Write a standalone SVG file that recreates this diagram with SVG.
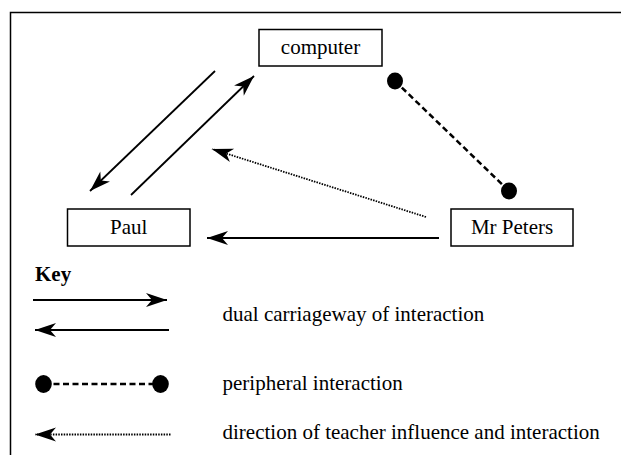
<svg xmlns="http://www.w3.org/2000/svg" width="621" height="455" viewBox="0 0 621 455">
<style>
text{font-family:"Liberation Serif","Times New Roman",serif;font-size:21px;fill:#000}
.box{fill:#fff;stroke:#000;stroke-width:1.5}
.solid{stroke:#000;stroke-width:1.8;fill:none}
.dash{stroke:#000;stroke-width:2.5;stroke-dasharray:6 3.5;fill:none}
.dot{stroke:#000;stroke-width:1.8;stroke-dasharray:1.5 1.2;fill:none}
.blob{fill:#000}
</style>
<defs>
<marker id="ah" markerUnits="userSpaceOnUse" markerWidth="26" markerHeight="20" viewBox="-24 -10 26 20" refX="0" refY="0" orient="auto">
<path d="M0,0 L-21,-7 L-15,0 L-21,7 Z" fill="#000"/>
</marker>
</defs>
<rect width="621" height="455" fill="#fff"/>
<path d="M10.5,460 V12.5 H630" fill="none" stroke="#000" stroke-width="1.5"/>
<g id="connectors">
<line class="solid" x1="215" y1="71" x2="90" y2="191" marker-end="url(#ah)"/>
<line class="solid" x1="131" y1="195" x2="254" y2="76" marker-end="url(#ah)"/>
<line class="dot" x1="426" y1="217" x2="212" y2="149" marker-end="url(#ah)"/>
<line class="solid" x1="439" y1="238" x2="207" y2="238" marker-end="url(#ah)"/>
<line class="dash" x1="395" y1="81" x2="509" y2="191"/>
<ellipse class="blob" cx="395" cy="81" rx="8" ry="8.5"/>
<ellipse class="blob" cx="509" cy="191" rx="8" ry="8.5"/>
</g>
<g id="computer">
<rect class="box" x="259" y="29.5" width="123" height="36.5"/>
<text x="320.5" y="54" text-anchor="middle">computer</text>
</g>
<g id="paul">
<rect class="box" x="67.5" y="209" width="122.5" height="37"/>
<text x="128.75" y="234" text-anchor="middle">Paul</text>
</g>
<g id="mr-peters">
<rect class="box" x="451" y="209" width="122" height="37"/>
<text x="512" y="234" text-anchor="middle">Mr Peters</text>
</g>
<g id="key">
<text x="35" y="281" font-weight="bold">Key</text>
<line class="solid" x1="33" y1="300" x2="167" y2="300" marker-end="url(#ah)"/>
<line class="solid" x1="169" y1="330" x2="35" y2="330" marker-end="url(#ah)"/>
<line class="dash" x1="44" y1="384" x2="160" y2="384"/>
<ellipse class="blob" cx="43.5" cy="384" rx="8.3" ry="9"/>
<ellipse class="blob" cx="160.5" cy="384" rx="8.3" ry="9"/>
<line class="dot" x1="170.5" y1="434.5" x2="35" y2="434.5" marker-end="url(#ah)"/>
<text x="222.5" y="321">dual carriageway of interaction</text>
<text x="222.5" y="390">peripheral interaction</text>
<text x="222.5" y="439">direction of teacher influence and interaction</text>
</g>
</svg>
